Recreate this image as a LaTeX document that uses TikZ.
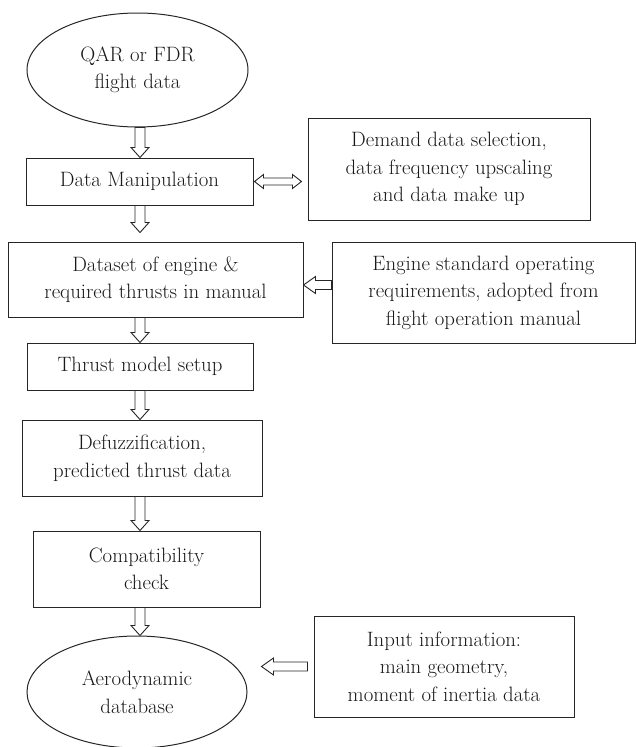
\documentclass[tikz,border=0pt]{standalone}
\usetikzlibrary{shapes.geometric,calc}
\tikzset{
  box/.style={draw=black!85, line width=1pt, rectangle, align=center, inner sep=2pt,
    text=black!90, font=\rmfamily\fontsize{20.8}{27.5}\selectfont},
  oval/.style={draw=black!85, line width=1pt, ellipse, align=center, inner sep=0pt,
    text=black!90, font=\rmfamily\fontsize{20.8}{27.5}\selectfont},
  arr/.style={draw=black!85, line width=0.9pt, fill=white},
  downarrow/.style={arr, to path={let \p1=(\tikztostart), \p2=(\tikztotarget) in
    (\x1-5pt,\y1) -- (\x1-5pt,\y2+10pt) -- (\x1-9pt,\y2+10pt) -- (\x1,\y2)
    -- (\x1+9pt,\y2+10pt) -- (\x1+5pt,\y2+10pt) -- (\x1+5pt,\y1) -- cycle}},
  leftarrow/.style={arr, to path={let \p1=(\tikztostart), \p2=(\tikztotarget) in
    (\x1,\y1+4.5pt) -- (\x2+12pt,\y1+4.5pt) -- (\x2+12pt,\y1+8.5pt) -- (\x2,\y1)
    -- (\x2+12pt,\y1-8.5pt) -- (\x2+12pt,\y1-4.5pt) -- (\x1,\y1-4.5pt) -- cycle}},
  twoarrow/.style={arr, to path={let \p1=(\tikztostart), \p2=(\tikztotarget) in
    (\x1,\y1) -- (\x1+9pt,\y1+7pt) -- (\x1+9pt,\y1+3.5pt) -- (\x2-9pt,\y1+3.5pt)
    -- (\x2-9pt,\y1+7pt) -- (\x2,\y1) -- (\x2-9pt,\y1-7pt) -- (\x2-9pt,\y1-3.5pt)
    -- (\x1+9pt,\y1-3.5pt) -- (\x1+9pt,\y1-7pt) -- cycle}}
}
\begin{document}
\begin{tikzpicture}[x=1pt, y=-1pt]
\useasboundingbox (0,0) rectangle (636,747);
\node[oval, minimum width=221, minimum height=114] (qar) at (137.5,70) {QAR or FDR\\flight data};
\node[box, minimum width=227, minimum height=47] (dm) at (139.5,181.5) {Data Manipulation};
\node[box, minimum width=282, minimum height=102] (demand) at (449,169) {Demand data selection,\\data frequency upscaling\\and data make up};
\node[box, minimum width=295, minimum height=75] (ds) at (155.5,279.5) {Dataset of engine \&\\required thrusts in manual};
\node[box, minimum width=303, minimum height=101] (eng) at (483.5,292.5) {Engine standard operating\\requirements, adopted from\\flight operation manual};
\node[box, minimum width=226, minimum height=47] (thr) at (140,366.5) {Thrust model setup};
\node[box, minimum width=240, minimum height=76] (def) at (142,458) {Defuzzification,\\predicted thrust data};
\node[box, minimum width=227, minimum height=76] (comp) at (146.5,569) {Compatibility\\check};
\node[oval, minimum width=220, minimum height=112] (aero) at (137,692) {Aerodynamic\\database};
\node[box, minimum width=260, minimum height=101] (inp) at (444,666.5) {Input information:\\main geometry,\\moment of inertia data};

% connector end points
\coordinate (a1s) at (140,0 |- qar.south);
\coordinate (a2s) at (140,0 |- dm.south);
\coordinate (a2e) at ($(a2s |- ds.north)+(0,-9)$);
\coordinate (a3s) at (140,0 |- ds.south);
\coordinate (a4s) at (140,0 |- thr.south);
\coordinate (a5s) at (140,0 |- def.south);
\coordinate (a6s) at (140,0 |- comp.south);
\coordinate (dme) at ($(dm.east)+(1,0)$);
\coordinate (dde) at ($(dm.east -| demand.west)+(-6,0)$);
\coordinate (engs) at ($(eng.west)+(0,-7.5)$);
\coordinate (inps) at ($(inp.west)+(-6,0)$);
\coordinate (inpe) at ($(aero.east |- inp.west)+(14,0)$);

\draw[downarrow] (a1s) to (a1s |- dm.north);
\draw[downarrow] (a2s) to (a2e);
\draw[downarrow] (a3s) to (a3s |- thr.north);
\draw[downarrow] (a4s) to (a4s |- def.north);
\draw[downarrow] (a5s) to (a5s |- comp.north);
\draw[downarrow] (a6s) to (a6s |- aero.north);
\draw[twoarrow] (dme) to (dde);
\draw[leftarrow] (engs) to (engs -| ds.east);
\draw[leftarrow] (inps) to (inpe);
\end{tikzpicture}
\end{document}
